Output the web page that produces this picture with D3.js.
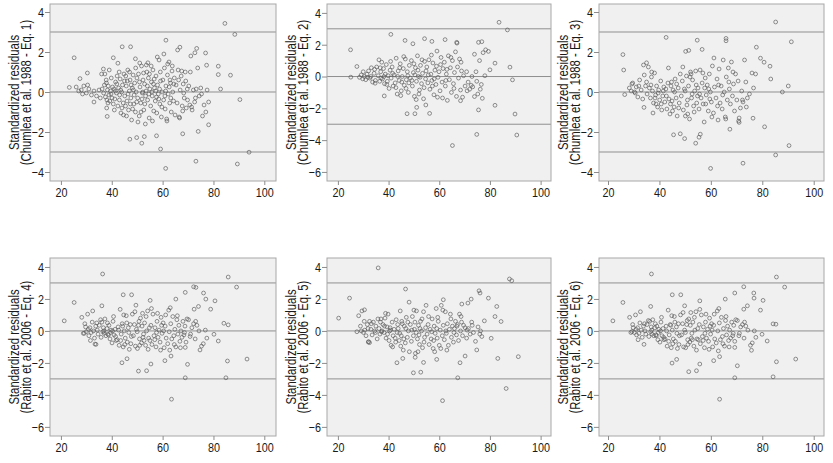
<!DOCTYPE html>
<html>
<head>
<meta charset="utf-8">
<script src="https://cdn.jsdelivr.net/npm/d3@7"></script>
<style>
  body { margin: 0; background: #fff; }
  #wrapper svg { display: block; }
  .tick text { font-family: "Liberation Sans", Arial, sans-serif; font-size: 13.5px; fill: #1a1a1a; }
  .tick line { stroke: #8c8c8c; }
  .ytitle { font-family: "Liberation Sans", Arial, sans-serif; font-size: 14px; fill: #1a1a1a; }
</style>
</head>
<body>
<div id="wrapper"></div>
<script>
// data: [x, standardized residual]
const eq1 = [
  [84.5,3.43],[88.4,2.88],[25.2,1.71],[47.4,2.26],[44.1,2.26],[61.3,2.59],[66.8,2.24],[73.4,2.18],[72.7,1.96],
  [77.3,1.34],[81.9,1.29],[86.7,0.84],[81.9,0.87],[82.8,0.15],[90.4,-0.38],[78.1,-1.64],[74,-1.97],[67.9,-2.09],
  [47.1,-2.36],[49.8,-2.28],[52.8,-2.23],[51.8,-2.56],[57.6,-2.19],[59.2,-2.85],[61.2,-3.82],[73.1,-3.46],[89.4,-3.6],
  [94,-3.01],[38.2,-1.22],[33,-0.5],[27.5,0.67],[30.4,0.95],[23.3,0.23],[36.7,1.15],[40.6,1.71],[42.4,1.44],[49.3,1.66],[54.2,1.46],
  [26,0.25],[27,0.05],[28,0.1],[28.5,-0.1],[29,0.3],[30,-0.05],[30.5,0.35],[31,0.15],[32,-0.15],[33,0.05],[34,-0.2],[35,0.1],[35.5,-0.3],[36,0.9],
  [36.2,0.15],[36.8,-0.05],[37.1,0.35],[37.5,-0.25],[37.8,0.6],[38.1,-0.4],[38.3,0.1],[38.6,0.3],[38.9,-0.15],[39.2,-0.45],[39.5,0.05],[39.8,0.7],
  [40.1,-0.3],[40.3,0.25],[37.3,0.9],[38.0,-0.8],[39.0,1.1],[38.5,-0.55],[37.9,0.45],[39.7,-0.1],
  [40.6,-0.6],[40.9,0.15],[41.2,-0.35],[41.5,0.5],[41.8,-0.05],[42.1,0.8],[42.4,-0.7],[42.7,0.2],[43.0,-0.4],[43.3,0.65],[43.6,-1.05],[43.9,0.0],
  [44.2,0.35],[44.5,-0.55],[44.8,0.9],[45.1,-0.2],[41.0,-0.9],[42.0,0.4],[43.1,-0.15],[44.0,-0.8],[45.0,0.55],[41.4,0.05],[42.9,1.0],[44.6,-1.15],[43.5,0.1],
  [45.4,-0.7],[45.7,0.3],[46.0,-0.45],[46.3,1.1],[46.6,-0.9],[46.9,0.05],[47.2,0.6],[47.5,-0.3],[47.8,-1.4],[48.1,0.2],[48.4,0.85],[48.7,-0.6],
  [49.0,0.45],[49.3,-1.0],[49.6,0.0],[49.9,0.7],[45.8,-1.2],[46.4,-0.1],[47.0,1.0],[47.6,0.35],[48.2,-0.85],[48.8,-0.15],[49.4,1.2],[49.8,-0.5],
  [46.1,0.55],[47.3,-0.6],[48.5,0.1],[45.5,0.8],
  [50.2,-0.3],[50.5,0.9],[50.8,-1.2],[51.1,0.25],[51.4,-0.55],[51.7,1.3],[52.0,-0.05],[52.3,0.6],[52.6,-0.9],[52.9,0.4],[53.2,-1.6],[53.5,0.05],
  [53.8,1.0],[54.1,-0.4],[54.4,0.7],[54.7,-1.3],[55.0,0.15],[50.3,-1.5],[51.0,1.45],[51.9,-0.35],[52.5,0.95],[53.0,-0.6],[53.6,1.35],[54.0,0.3],
  [54.6,-0.1],[52.2,0.0],[50.9,0.5],[53.3,-0.2],[54.8,0.9],[51.5,-1.0],
  [55.3,-0.7],[55.6,0.5],[55.9,-0.2],[56.2,1.1],[56.5,-0.95],[56.8,0.2],[57.1,-0.45],[57.4,0.8],[57.7,-1.05],[58.0,0.35],[58.3,-0.1],[58.6,1.6],
  [58.9,-0.6],[59.2,0.55],[59.5,-1.25],[59.8,0.0],[55.5,1.3],[56.0,-1.45],[56.7,0.65],[57.3,0.05],[57.9,1.75],[58.5,-0.35],[59.1,1.0],[59.7,-0.75],
  [56.4,0.4],[57.6,-0.25],[58.8,0.15],[55.8,0.0],
  [60.1,0.6],[60.4,-0.4],[60.7,1.2],[61.0,-0.85],[61.3,0.3],[61.6,-1.35],[61.9,0.85],[62.2,-0.1],[62.5,1.5],[62.8,-0.55],[63.1,0.45],[63.4,-1.0],
  [63.7,1.05],[64.0,0.0],[64.3,-0.45],[64.6,0.7],[64.9,-1.15],[60.5,1.9],[61.2,0.05],[62.0,1.4],[62.6,0.25],[63.2,-0.3],[63.8,1.3],[64.4,0.4],
  [61.7,-1.45],[62.9,0.6],[60.9,-0.2],
  [65.3,0.35],[65.7,-0.55],[66.1,1.1],[66.5,-1.25],[66.9,0.1],[67.3,0.8],[67.7,-0.7],[68.1,0.4],[68.5,-0.3],[68.9,1.0],[69.3,-0.8],[69.7,0.15],
  [65.9,2.1],[66.7,-1.3],[67.5,1.05],[68.3,-0.05],[69.1,0.55],[69.8,-0.4],[66.3,0.6],[67.9,-0.95],
  [70.3,0.3],[70.7,-0.65],[71.1,1.8],[71.6,-0.9],[72.1,0.1],[72.6,-0.5],[73.2,0.15],[73.8,1.2],[74.4,-0.2],[75.0,0.2],[75.7,-1.2],[76.3,-0.65],
  [76.9,1.95],[77.5,0.1],[78.1,-0.5],[71.4,-0.75],[72.9,-0.3],[75.3,-0.1],[77.0,-1.0],[70.9,1.0]
]
const eq2 = [
  [83.6,3.41],[86.9,2.93],[25,1.68],[40.9,2.65],[46.5,2.27],[49.6,2.06],[54.2,2.38],[57.1,2.21],[62.3,2.32],[66.9,2.15],
  [75.5,2.15],[76.8,2.19],[78.3,1.68],[79.4,1.58],[82,0.84],[80,0.42],[87.9,0.59],[88.9,-0.21],[82,-1.81],[75.5,-2.1],
  [77,-1.37],[89.9,-2.36],[90.6,-3.68],[74.8,-3.64],[65.2,-4.34],[47.3,-2.34],[50.4,-2.34],[56.2,-2.32],[51.1,-1.94],
  [54.7,-1.79],[68.4,-1.52],[73.9,-1.26],[25.1,-0.04],[27.5,0.63],[38.3,-1.22],[34.7,-0.42],
  [28.5,-0.05],[29.2,0.1],[29.8,-0.15],[30.4,0.0],[31.0,-0.2],[31.5,0.15],[32.1,0.35],[32.6,-0.1],[33.2,0.55],[33.7,-0.35],[34.3,0.2],
  [34.8,-0.25],[35.3,0.6],[35.9,0.05],[30.0,0.3],[31.8,-0.05],[33.0,0.0],[34.5,0.45],
  [36.2,1.05],[36.5,-0.3],[36.9,0.3],[37.3,0.9],[37.6,-0.15],[38.0,0.5],[38.4,-0.45],[38.7,0.15],[39.1,0.75],[39.5,-0.3],[39.8,0.05],
  [40.2,-0.75],[40.6,0.4],[41.0,-0.1],[41.4,0.6],[41.8,-0.6],[37.0,-0.1],[38.2,0.0],[39.3,-0.5],[40.8,0.95],[41.6,0.2],[36.7,0.55],
  [42.2,0.1],[42.6,-0.4],[43.0,1.15],[43.4,-1.1],[43.8,0.35],[44.2,-0.25],[44.6,0.8],[45.0,-0.9],[45.4,0.0],[45.8,0.5],[46.2,-0.55],
  [46.6,1.1],[47.0,-0.2],[47.4,0.3],[47.8,-1.0],[48.2,0.7],[42.9,-0.7],[43.6,0.0],[44.4,0.55],[45.2,-0.35],[46.0,1.25],[46.9,-0.75],
  [47.6,0.05],[48.0,-0.4],[44.8,-1.2],
  [48.6,-0.1],[49.0,1.0],[49.4,-0.6],[49.8,0.25],[50.2,-1.25],[50.6,0.55],[51.0,-0.3],[51.4,1.3],[51.8,0.0],[52.2,-0.85],[52.6,0.7],
  [53.0,-0.45],[53.4,0.2],[53.8,-1.4],[54.2,0.95],[54.6,-0.15],[49.2,-0.25],[50.0,0.8],[50.9,-1.45],[51.6,0.4],[52.4,-0.05],[53.2,1.05],
  [54.0,-0.7],[54.8,0.35],[52.0,-1.1],[50.4,0.1],
  [55.1,0.6],[55.5,-0.4],[55.9,1.05],[56.3,-0.8],[56.7,0.15],[57.1,-0.25],[57.5,0.85],[57.9,-1.15],[58.3,0.4],[58.7,-0.5],[59.1,1.6],
  [59.5,-0.05],[59.9,0.3],[60.3,-0.9],[60.7,1.2],[61.1,-0.35],[61.5,0.5],[55.7,0.1],[56.9,1.35],[58.0,-0.15],[59.3,-1.3],[60.5,0.75],
  [61.3,-1.35],[57.3,-0.6],[58.9,0.65],
  [62.0,0.9],[62.4,-0.6],[62.8,0.15],[63.2,-1.5],[63.6,1.3],[64.0,-0.2],[64.4,0.55],[64.8,-1.0],[65.2,1.0],[65.6,-0.45],[66.0,0.25],
  [66.4,1.55],[66.8,-1.25],[67.2,0.6],[67.6,-0.1],[68.0,1.1],[68.4,-0.85],[68.8,0.35],[69.2,-1.3],[69.6,0.05],[63.0,0.45],[64.6,1.2],
  [65.8,-0.75],[67.0,2.1],[68.6,0.9],[62.6,-0.25],
  [70.2,-0.6],[70.8,0.3],[71.4,-0.35],[72.0,-0.8],[72.6,-0.55],[73.2,-0.65],[73.9,1.4],[74.5,0.3],[75.2,-1.1],[75.9,1.0],[76.6,-0.5],
  [77.3,1.5],[78.0,0.05],[71.0,-0.9],[72.9,0.0],[74.8,-0.3],[76.2,-0.8]
]
const eq3 = [
  [85.2,3.5],[91.3,2.51],[42.6,2.73],[54.7,2.59],[65.9,2.68],[65.9,2.56],[56.6,2.13],[50.2,2.03],[51.4,2.08],[77.7,2.24],
  [79.3,1.69],[80.7,1.49],[83,1.29],[83.3,0.65],[87.8,0.0],[90.1,0.3],[25.8,1.87],[26.1,1.1],[26.5,-0.13],[35,1.46],
  [37.5,-1.05],[45.5,-2.14],[48.1,-2.09],[49.8,-2.33],[54.1,-2.56],[55.4,-2.26],[55.9,-2.11],[59.9,-3.82],[72.5,-3.56],
  [85.2,-3.15],[90.4,-2.68],[80.9,-1.74],[76.4,-1.31],[67.4,-1.86],[71,-1.52],[34,-0.77],
  [28.3,0.2],[29.0,0.05],[29.6,0.45],[30.3,0.0],[31.0,0.25],[31.6,-0.25],[32.3,0.6],[32.9,0.1],[33.5,-0.35],[34.1,0.85],[34.6,0.3],
  [35.2,-0.1],[35.7,1.25],[30.6,-0.05],[32.0,0.3],[33.8,1.35],[35.0,0.5],[29.3,0.4],
  [36.1,0.2],[36.5,-0.3],[36.9,0.75],[37.3,0.05],[37.7,-0.55],[38.1,0.95],[38.5,-0.15],[38.9,0.3],[39.3,-0.75],[39.7,0.1],[40.1,-0.4],
  [40.5,0.55],[40.9,-0.9],[41.3,-0.2],[41.7,0.25],[37.0,1.0],[38.3,-0.3],[39.5,-0.05],[40.7,-0.6],[41.5,0.05],[36.7,0.35],[38.7,-0.6],
  [42.1,-0.5],[42.5,0.15],[42.9,-0.85],[43.3,0.45],[43.7,-0.35],[44.1,-1.1],[44.5,0.3],[44.9,-0.45],[45.3,0.1],[45.7,-0.75],[46.1,0.65],
  [46.5,-0.3],[46.9,-1.2],[47.3,0.2],[47.7,-0.55],[48.1,0.9],[42.7,-0.2],[43.5,1.2],[44.3,-0.6],[45.1,-0.95],[45.9,0.0],[46.7,0.4],
  [47.5,-0.8],[44.7,0.5],
  [48.5,-0.2],[48.9,0.55],[49.3,-0.9],[49.7,0.15],[50.1,-1.2],[50.5,0.8],[50.9,-0.4],[51.3,0.3],[51.7,-1.35],[52.1,1.0],[52.5,-0.3],
  [52.9,0.6],[53.3,-0.7],[53.7,0.05],[54.1,1.05],[54.5,-0.55],[49.1,1.25],[50.0,0.05],[51.0,-1.1],[51.9,0.75],[52.7,-0.1],[53.5,-1.0],
  [54.3,0.35],[50.7,-0.65],[52.3,0.9],[54.8,-0.2],
  [55.0,0.2],[55.4,-0.85],[55.8,1.1],[56.2,-0.3],[56.6,0.45],[57.0,-0.6],[57.4,-1.5],[57.8,0.7],[58.2,-0.15],[58.6,0.35],[59.0,-0.95],
  [59.4,0.9],[59.8,0.0],[60.2,-0.5],[60.6,1.3],[61.0,-1.05],[61.4,0.25],[55.6,-0.1],[56.9,0.95],[58.0,-0.6],[59.2,0.15],[60.4,-1.25],
  [61.2,1.7],[57.6,0.2],[59.6,-0.35],
  [62.0,-0.3],[62.4,0.65],[62.8,-1.4],[63.2,1.15],[63.6,-0.55],[64.0,0.3],[64.4,-0.85],[64.8,1.6],[65.2,0.0],[65.6,-1.25],[66.0,0.75],
  [66.4,-0.4],[66.8,1.2],[67.2,0.15],[67.6,-0.6],[68.0,1.5],[68.4,-0.2],[68.8,0.4],[69.2,-0.95],[69.6,0.9],[63.0,0.35],[64.6,-0.15],
  [65.8,-1.35],[67.0,0.5],[68.6,1.0],[62.6,-0.7],
  [70.1,-0.4],[70.6,0.55],[71.0,-1.3],[71.5,-0.8],[72.0,0.05],[72.5,-0.5],[73.1,1.6],[73.6,0.5],[74.2,-0.3],[75.0,-0.1],[76.0,0.95],
  [76.6,0.2],[77.4,0.9],[70.8,-1.45],[72.3,-0.4],[73.8,-0.75]
]
const eq4 = [
  [36.4,3.56],[85.8,3.37],[89.1,2.74],[72.2,2.76],[73.1,2.72],[68.9,2.41],[76.1,2.37],[77,1.99],[80.6,1.88],[78.9,1.36],
  [74.1,1.53],[72.4,1.36],[65.2,1.99],[55.1,1.91],[44.5,2.26],[47.8,2.26],[49.5,1.61],[25.2,1.78],[21.3,0.63],[36.1,1.57],
  [81.9,-0.63],[80.2,-0.21],[84.1,0.48],[85.8,0.38],[93.2,-1.76],[85.5,-1.88],[84.9,-2.93],[68.9,-2.93],[69.8,-2.09],
  [63.5,-4.27],[44,-1.99],[46,-1.74],[50.5,-2.51],[53.7,-2.49],[55.4,-2.07],[60.9,-1.86],[63.3,-1.57],[68.9,-1.03],
  [74.7,-1.19],[33.4,-0.82],[33.8,-0.84],[29.2,-0.15],
  [28.2,0.85],[28.8,-0.15],[29.4,0.45],[30.0,-0.05],[30.5,1.05],[31.0,-0.3],[31.4,0.2],[31.9,-0.1],[32.3,0.55],[32.8,0.0],[33.2,-0.45],
  [33.7,0.3],[34.1,0.5],[34.6,-0.2],[35.1,0.35],[35.6,0.7],[30.8,0.1],[31.6,-0.6],[32.5,1.25],[34.3,0.05],[29.7,0.25],[35.8,-0.4],
  [36.1,0.55],[36.5,-0.05],[36.9,0.0],[37.3,0.75],[37.7,-0.3],[38.1,0.15],[38.5,-0.2],[38.9,0.35],[39.3,-0.5],[39.7,0.05],[40.1,-0.75],
  [40.5,0.6],[40.9,-0.25],[41.3,0.1],[41.7,-0.6],[37.0,-0.15],[38.3,0.5],[39.5,-0.1],[40.7,0.9],[41.5,-0.35],[36.7,0.2],[38.7,-0.25],[40.3,0.0],
  [42.1,-0.55],[42.5,0.25],[42.9,-0.9],[43.3,1.35],[43.7,-0.2],[44.1,0.45],[44.5,-1.0],[44.9,0.0],[45.3,-0.45],[45.7,0.95],[46.1,-0.7],
  [46.5,0.2],[46.9,-1.15],[47.3,0.4],[47.7,-0.35],[48.1,1.05],[42.7,0.05],[43.5,-0.6],[44.3,0.3],[45.1,-0.85],[45.9,0.5],[46.7,-0.1],
  [47.5,-0.8],[44.7,1.0],
  [48.5,-0.3],[48.9,0.4],[49.3,-0.95],[49.7,0.1],[50.1,-1.1],[50.5,0.35],[50.9,-0.5],[51.3,0.8],[51.7,-0.75],[52.1,1.1],[52.5,-0.2],
  [52.9,0.5],[53.3,-0.9],[53.7,0.0],[54.1,1.25],[54.5,-0.45],[49.1,1.2],[50.0,-0.05],[51.0,-0.9],[51.9,0.3],[52.7,-0.6],[53.5,0.9],
  [54.3,-1.15],[50.7,0.6],[52.3,-0.4],[54.8,0.2],
  [55.0,-0.6],[55.4,0.35],[55.8,-0.85],[56.2,1.05],[56.6,-0.3],[57.0,0.2],[57.4,-1.0],[57.8,0.6],[58.2,-0.4],[58.6,0.05],[59.0,-0.7],
  [59.4,0.85],[59.8,-0.15],[60.2,0.5],[60.6,-1.05],[61.0,0.3],[61.4,-0.45],[55.6,1.4],[56.9,-0.55],[58.0,1.1],[59.2,-1.2],[60.4,0.0],
  [61.2,1.0],[57.6,-0.1],[59.6,0.35],
  [62.0,-0.8],[62.4,1.3],[62.8,-1.2],[63.2,0.45],[63.6,-0.5],[64.0,0.9],[64.4,-0.3],[64.8,0.1],[65.2,-1.0],[65.6,0.7],[66.0,-0.2],
  [66.4,0.35],[66.8,-0.65],[67.2,0.0],[67.6,-0.4],[68.0,0.6],[68.4,-0.25],[68.8,0.3],[69.2,-0.7],[69.6,0.75],[63.0,1.45],[64.6,-0.85],
  [65.8,0.95],[67.0,-1.05],[68.6,-0.1],[62.6,-0.05],
  [70.2,0.7],[70.8,-0.35],[71.5,0.2],[72.2,0.45],[72.8,-0.5],[73.5,0.35],[74.3,0.0],[75.3,-0.95],[76.0,-0.8],[76.8,0.05],[77.4,-0.45],
  [71.0,-0.2],[73.0,0.6]
]
const eq5 = [
  [35.9,3.94],[87.7,3.25],[88.6,3.14],[46.7,2.62],[75.7,2.51],[76.1,2.37],[79.4,2.05],[72.6,1.99],[68.9,1.68],[71.3,1.74],
  [61.6,1.95],[48.1,1.8],[24.6,2.05],[20.3,0.8],[30.5,1.32],[82.7,1.53],[82,0.9],[84.4,0.59],[77.8,0.63],[80.5,-0.46],
  [83.1,-1.72],[91.2,-1.61],[86.4,-3.6],[67.3,-2.93],[61.3,-4.36],[49.8,-2.62],[52.7,-2.58],[43.3,-1.99],[45.6,-1.72],
  [50.5,-1.65],[53.8,-1.97],[59,-1.78],[68.2,-1.99],[70.2,-1.57],[74.8,-1.19],[32.1,-0.67],[32.5,-0.73],
  [27.5,-0.05],[28.2,0.95],[28.9,0.3],[29.5,1.25],[30.1,-0.1],[30.6,0.05],[31.1,-0.3],[31.6,0.4],[32.0,-0.7],[32.5,0.6],[33.0,0.1],
  [33.5,-0.25],[34.0,0.55],[34.5,0.0],[35.0,0.3],[35.5,-0.5],[30.4,0.6],[31.9,0.15],[33.2,0.45],[34.8,-0.1],[29.2,0.0],[35.8,0.75],
  [36.2,0.15],[36.6,-0.2],[37.0,0.75],[37.4,0.0],[37.8,0.4],[38.2,-0.1],[38.6,0.8],[39.0,-0.45],[39.4,0.25],[39.8,1.05],[40.2,-0.6],
  [40.6,0.2],[41.0,-0.9],[41.4,0.55],[41.8,-0.3],[37.2,-0.05],[38.4,0.3],[39.6,-0.2],[40.8,0.05],[41.6,-1.0],[36.8,0.55],[38.8,1.1],[40.4,0.0],
  [42.2,0.1],[42.6,-0.45],[43.0,0.7],[43.4,-0.1],[43.8,0.15],[44.2,-0.6],[44.6,1.25],[45.0,-0.3],[45.4,0.45],[45.8,-1.2],[46.2,0.3],
  [46.6,-0.75],[47.0,0.85],[47.4,-0.4],[47.8,0.0],[48.2,-1.3],[42.8,-0.7],[43.6,0.4],[44.4,-0.15],[45.2,0.6],[46.0,-0.5],[46.8,0.15],
  [47.6,0.55],[44.8,-0.95],
  [48.6,0.4],[49.0,-0.65],[49.4,0.9],[49.8,-0.3],[50.2,0.1],[50.6,-1.4],[51.0,1.25],[51.4,-0.5],[51.8,0.35],[52.2,-0.85],[52.6,0.6],
  [53.0,0.0],[53.4,-1.05],[53.8,1.2],[54.2,-0.4],[54.6,0.2],[49.2,0.05],[50.0,1.3],[50.9,-0.1],[51.6,-1.3],[52.4,0.15],[53.2,0.75],
  [54.0,-0.7],[54.8,1.6],[52.0,-0.25],[50.4,0.55],
  [55.2,-0.2],[55.6,0.4],[56.0,-0.85],[56.4,0.1],[56.8,-0.5],[57.2,0.75],[57.6,-1.1],[58.0,0.3],[58.4,-0.15],[58.8,1.4],[59.2,-0.45],
  [59.6,0.6],[60.0,-0.9],[60.4,0.05],[60.8,1.6],[61.2,-0.3],[61.6,0.35],[55.8,0.9],[57.0,-0.05],[58.2,-1.3],[59.4,0.85],[60.6,-1.1],
  [61.4,1.3],[57.8,-0.6],[59.0,0.15],
  [62.0,-0.55],[62.4,1.2],[62.8,-0.15],[63.2,0.45],[63.6,-0.9],[64.0,0.1],[64.4,1.05],[64.8,-0.4],[65.2,0.3],[65.6,-0.7],[66.0,0.15],
  [66.4,0.6],[66.8,-0.25],[67.2,0.4],[67.6,-0.6],[68.0,1.05],[68.4,0.0],[68.8,0.55],[69.2,-0.3],[69.6,0.35],[63.0,-1.2],[64.6,0.75],
  [65.8,-0.1],[67.0,0.3],[68.6,0.9],[62.6,0.0],
  [70.2,0.2],[70.8,-0.45],[71.5,0.15],[72.2,-0.2],[72.8,0.55],[73.5,-0.1],[74.3,-0.65],[75.3,0.25],[76.0,-0.2],[76.8,-0.35],
  [71.0,0.05],[73.0,0.35],[76.3,0.0]
]
const eq6 = [
  [36.9,3.56],[85.5,3.37],[88.7,2.74],[72.8,2.76],[69.3,2.37],[76.7,2.37],[76.8,2.05],[80.3,1.91],[79.3,1.3],[74.2,1.57],
  [72.8,1.36],[65.6,1.99],[55.7,1.88],[45,2.26],[48.3,2.26],[49.8,1.57],[25.8,1.78],[21.9,0.63],[36.6,1.53],[81.9,-0.63],
  [79.9,-0.21],[84.2,0.44],[85.3,0.42],[93,-1.76],[85.5,-1.93],[84.2,-2.87],[69.3,-2.93],[70.3,-2.18],[63.4,-4.27],
  [44.9,-2.01],[46.7,-1.78],[51.4,-2.55],[54.4,-2.49],[55.7,-2.07],[61.1,-1.86],[63.4,-1.61],[69.3,-1.03],[75.8,-1.21],
  [34,-0.84],[29.3,-0.04],
  [28.4,0.85],[28.9,-0.1],[29.6,0.4],[30.2,-0.1],[30.7,1.0],[31.1,-0.25],[31.5,0.2],[32.0,-0.15],[32.4,0.5],[32.9,0.05],[33.3,-0.4],
  [33.8,0.3],[34.2,0.45],[34.7,-0.2],[35.2,0.4],[35.7,0.65],[30.9,0.1],[31.7,-0.55],[32.6,1.2],[34.4,0.0],[29.8,0.2],[35.9,-0.35],
  [36.2,0.6],[36.6,-0.05],[37.0,0.05],[37.4,0.7],[37.8,-0.3],[38.2,0.2],[38.6,-0.25],[39.0,0.3],[39.4,-0.55],[39.8,0.1],[40.2,-0.7],
  [40.6,0.55],[41.0,-0.3],[41.4,0.15],[41.8,-0.55],[37.1,-0.2],[38.4,0.45],[39.6,-0.1],[40.8,0.85],[41.6,-0.4],[36.8,0.25],[38.8,-0.3],[40.4,0.0],
  [42.2,-0.5],[42.6,0.3],[43.0,-0.95],[43.4,1.3],[43.8,-0.25],[44.2,0.4],[44.6,-1.05],[45.0,0.05],[45.4,-0.5],[45.8,0.9],[46.2,-0.65],
  [46.6,0.25],[47.0,-1.1],[47.4,0.45],[47.8,-0.3],[48.2,1.0],[42.8,0.0],[43.6,-0.65],[44.4,0.35],[45.2,-0.8],[46.0,0.55],[46.8,-0.15],
  [47.6,-0.85],[44.8,0.95],
  [48.6,-0.25],[49.0,0.45],[49.4,-1.0],[49.8,0.05],[50.2,-1.05],[50.6,0.4],[51.0,-0.55],[51.4,0.75],[51.8,-0.7],[52.2,1.15],[52.6,-0.15],
  [53.0,0.55],[53.4,-0.95],[53.8,0.05],[54.2,1.2],[54.6,-0.5],[49.2,1.15],[50.1,-0.1],[51.1,-0.85],[52.0,0.35],[52.8,-0.55],[53.6,0.85],
  [54.4,-1.2],[50.8,0.65],[52.4,-0.45],[54.9,0.15],
  [55.1,-0.55],[55.5,0.4],[55.9,-0.8],[56.3,1.0],[56.7,-0.35],[57.1,0.25],[57.5,-1.05],[57.9,0.55],[58.3,-0.45],[58.7,0.1],[59.1,-0.65],
  [59.5,0.8],[59.9,-0.2],[60.3,0.45],[60.7,-1.0],[61.1,0.35],[61.5,-0.5],[55.7,1.35],[57.0,-0.6],[58.1,1.05],[59.3,-1.15],[60.5,0.05],
  [61.3,1.05],[57.7,-0.15],[59.7,0.3],
  [62.1,-0.75],[62.5,1.25],[62.9,-1.25],[63.3,0.5],[63.7,-0.55],[64.1,0.85],[64.5,-0.35],[64.9,0.15],[65.3,-0.95],[65.7,0.65],[66.1,-0.25],
  [66.5,0.3],[66.9,-0.6],[67.3,0.05],[67.7,-0.45],[68.1,0.55],[68.5,-0.3],[68.9,0.35],[69.3,-0.65],[69.7,0.7],[63.1,1.4],[64.7,-0.8],
  [65.9,0.9],[67.1,-1.0],[68.7,-0.15],[62.7,0.0],
  [70.3,0.65],[70.9,-0.3],[71.6,0.25],[72.3,0.4],[72.9,-0.45],[73.6,0.3],[74.4,0.05],[75.4,-0.9],[76.1,-0.75],[76.9,0.0],[77.5,-0.4],
  [71.1,-0.15],[73.1,0.55]
]

const xTicks = [20, 40, 60, 80, 100]
const yTicksNarrow = [-4, -2, 0, 2, 4]
const yTicksWide = [-6, -4, -2, 0, 2, 4]
const refLines = [-3, 0, 3]
const axisTitle = "Standardized residuals"
const sources = [
  "(Chumlea et al. 1988 - Eq. 1)",
  "(Chumlea et al. 1988 - Eq. 2)",
  "(Chumlea et al. 1988 - Eq. 3)",
  "(Rabito et al. 2006 - Eq. 4)",
  "(Rabito et al. 2006 - Eq. 5)",
  "(Rabito et al. 2006 - Eq. 6)",
]
const residuals = [eq1, eq2, eq3, eq4, eq5, eq6]

// layout
const cols = [
  { left: 50, width: 226, xDomain: [15.7, 104.6] },
  { left: 327, width: 224, xDomain: [15.7, 104.1] },
  { left: 599, width: 225, xDomain: [16.5, 104.0] },
]
const rows = [
  { top: 4, height: 177 },
  { top: 258, height: 178 },
]
const narrowDomain = [-4.45, 4.4]
const wideDomain = [-6.57, 4.56]

const wrapper = d3.select("#wrapper")
  .append("svg")
  .attr("width", 833)
  .attr("height", 463)

residuals.forEach((data, i) => {
  const col = cols[i % 3]
  const row = rows[Math.floor(i / 3)]
  const narrow = i === 0 || i === 2
  const yTicks = narrow ? yTicksNarrow : yTicksWide

  const xScale = d3.scaleLinear()
    .domain(col.xDomain)
    .range([0, col.width])
  const yScale = d3.scaleLinear()
    .domain(narrow ? narrowDomain : wideDomain)
    .range([row.height, 0])

  const bounds = wrapper.append("g")
    .attr("transform", `translate(${col.left},${row.top})`)

  bounds.append("rect")
    .attr("width", col.width)
    .attr("height", row.height)
    .attr("fill", "#f0f0f0")

  bounds.selectAll(".ref")
    .data(refLines)
    .join("line")
    .attr("class", "ref")
    .attr("x1", 0)
    .attr("x2", col.width)
    .attr("y1", d => yScale(d))
    .attr("y2", d => yScale(d))
    .attr("stroke", "#8f8f8f")
    .attr("stroke-width", 1)

  bounds.append("g")
    .selectAll("circle")
    .data(data)
    .join("circle")
    .attr("cx", d => xScale(d[0]))
    .attr("cy", d => yScale(d[1]))
    .attr("r", 1.9)
    .attr("fill", "none")
    .attr("stroke", "#5c5c5c")
    .attr("stroke-opacity", 0.85)
    .attr("stroke-width", 0.8)

  bounds.append("rect")
    .attr("width", col.width)
    .attr("height", row.height)
    .attr("fill", "none")
    .attr("stroke", "#a8a8a8")

  const xAxis = bounds.append("g")
    .attr("transform", `translate(0,${row.height})`)
    .call(d3.axisBottom(xScale).tickValues(xTicks).tickSize(4).tickPadding(2.5).tickSizeOuter(0))
  xAxis.select(".domain").remove()

  const yAxis = bounds.append("g")
    .call(d3.axisLeft(yScale).tickValues(yTicks).tickSize(5).tickPadding(2.5).tickSizeOuter(0))
  yAxis.select(".domain").remove()
  bounds.selectAll(".tick text")
    .attr("font-family", null)
    .attr("font-size", null)
    .attr("transform", "scale(0.8,1)")

  // rotated two-line axis title, squeezed a little to match the narrow original face
  const title = bounds.append("text")
    .attr("class", "ytitle")
    .attr("text-anchor", "middle")
    .attr("transform", `translate(0,${row.height / 2}) rotate(-90) scale(0.81,1)`)
  title.append("tspan")
    .attr("x", 0)
    .attr("y", -31)
    .text(axisTitle)
  title.append("tspan")
    .attr("x", 0)
    .attr("y", -19.5)
    .text(sources[i])
})
</script>
</body>
</html>
